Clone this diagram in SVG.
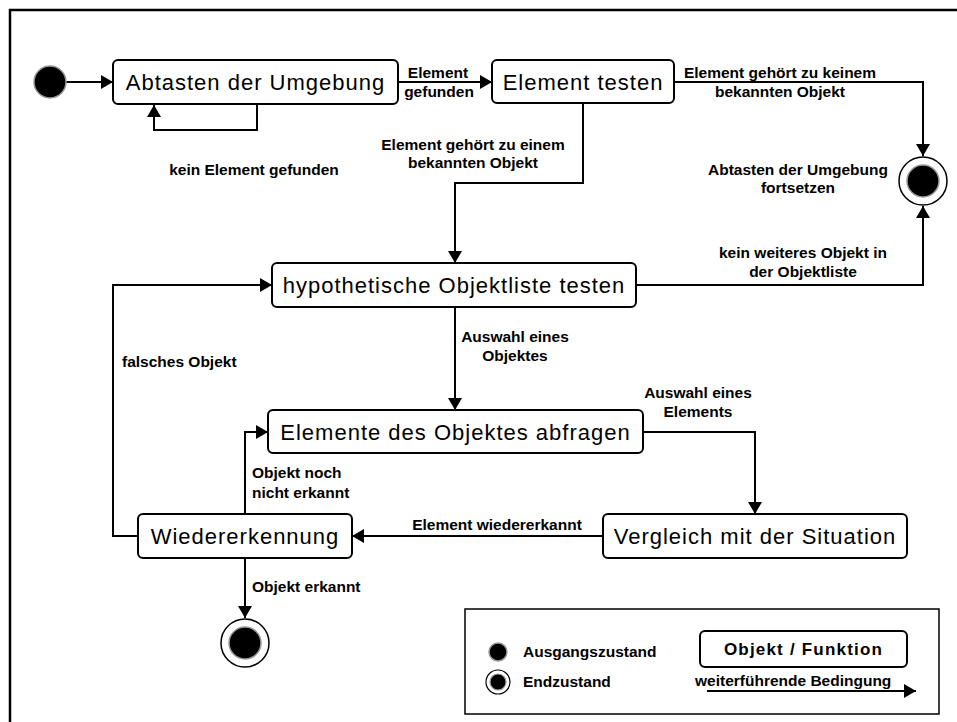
<svg xmlns="http://www.w3.org/2000/svg" width="957" height="722" viewBox="0 0 957 722">
  <style>
    .node rect { fill: #fff; stroke: #000; stroke-width: 2; }
    .node text { font-family: "Liberation Sans", Arial, sans-serif; font-size: 22px; letter-spacing: 1px; text-anchor: middle; fill: #000; }
    .conn { fill: none; stroke: #000; stroke-width: 2; marker-end: url(#arrow); }
    .lbl { font-family: "Liberation Sans", Arial, sans-serif; font-size: 15.5px; font-weight: bold; fill: #000; }
    .mid { text-anchor: middle; }
  </style>
  <defs>
    <marker id="arrow" markerUnits="userSpaceOnUse" markerWidth="13" markerHeight="14" refX="12" refY="7" orient="auto">
      <path d="M0,0 L12,7 L0,14 z" fill="#000"/>
    </marker>
  </defs>

  <rect width="957" height="722" fill="#fff"/>
  <!-- outer frame -->
  <rect x="10" y="10" width="960" height="730" fill="none" stroke="#000" stroke-width="2.5"/>

  <!-- connectors -->
  <g id="connectors">
    <path class="conn" d="M66,82 H113"/>
    <path class="conn" d="M257,104 V130 H154 V105"/>
    <path class="conn" d="M398,82 H492"/>
    <path class="conn" d="M674,82 H923 V156"/>
    <path class="conn" d="M583,103 V183 H455 V263"/>
    <path class="conn" d="M636,285 H923 V206"/>
    <path class="conn" d="M455,307 V410"/>
    <path class="conn" d="M138,536 H113 V285 H272"/>
    <path class="conn" d="M643,432 H755 V514"/>
    <path class="conn" d="M603,536 H352"/>
    <path class="conn" d="M245,514 V432 H268"/>
    <path class="conn" d="M245,558 V618"/>
  </g>

  <!-- transition labels -->
  <g id="labels">
    <text class="lbl mid" x="438" y="78">Element</text>
    <text class="lbl mid" x="439" y="97">gefunden</text>
    <text class="lbl mid" x="254" y="175">kein Element gefunden</text>
    <text class="lbl mid" x="780" y="78">Element gehört zu keinem</text>
    <text class="lbl mid" x="780" y="97">bekannten Objekt</text>
    <text class="lbl mid" x="473" y="150">Element gehört zu einem</text>
    <text class="lbl mid" x="473" y="168">bekannten Objekt</text>
    <text class="lbl mid" x="798" y="175">Abtasten der Umgebung</text>
    <text class="lbl mid" x="798" y="193">fortsetzen</text>
    <text class="lbl mid" x="803" y="258">kein weiteres Objekt in</text>
    <text class="lbl mid" x="803" y="277">der Objektliste</text>
    <text class="lbl mid" x="515" y="342">Auswahl eines</text>
    <text class="lbl mid" x="515" y="361">Objektes</text>
    <text class="lbl" x="122" y="367">falsches Objekt</text>
    <text class="lbl mid" x="698" y="398">Auswahl eines</text>
    <text class="lbl mid" x="698" y="417">Elements</text>
    <text class="lbl" x="252" y="478">Objekt noch</text>
    <text class="lbl" x="252" y="498">nicht erkannt</text>
    <text class="lbl mid" x="497" y="530">Element wiedererkannt</text>
    <text class="lbl" x="252" y="592">Objekt erkannt</text>
  </g>

  <!-- states -->
  <g id="start">
    <circle cx="50" cy="82" r="16" fill="#000" stroke="#999" stroke-width="1.5"/>
  </g>
  <g id="end-continue">
    <circle cx="923" cy="181" r="24" fill="#fff" stroke="#000" stroke-width="1.5"/>
    <circle cx="923" cy="181" r="16" fill="#000" stroke="#999" stroke-width="1.5"/>
  </g>
  <g id="end-recognized">
    <circle cx="245" cy="643" r="24" fill="#fff" stroke="#000" stroke-width="1.5"/>
    <circle cx="245" cy="643" r="16" fill="#000" stroke="#999" stroke-width="1.5"/>
  </g>

  <g id="scan" class="node">
    <rect x="113" y="60" width="285" height="44" rx="5"/>
    <text x="255.5" y="90">Abtasten der Umgebung</text>
  </g>
  <g id="test-element" class="node">
    <rect x="492" y="60" width="182" height="43" rx="5"/>
    <text x="583" y="90">Element testen</text>
  </g>
  <g id="test-list" class="node">
    <rect x="272" y="263" width="364" height="44" rx="5"/>
    <text x="454" y="293">hypothetische Objektliste testen</text>
  </g>
  <g id="query-elements" class="node">
    <rect x="268" y="410" width="375" height="43" rx="5"/>
    <text x="455.5" y="440">Elemente des Objektes abfragen</text>
  </g>
  <g id="compare" class="node">
    <rect x="603" y="514" width="304" height="44" rx="5"/>
    <text x="755" y="544">Vergleich mit der Situation</text>
  </g>
  <g id="recognition" class="node">
    <rect x="138" y="514" width="214" height="44" rx="5"/>
    <text x="245" y="544">Wiedererkennung</text>
  </g>

  <!-- legend -->
  <g id="legend">
    <rect x="465" y="609" width="474" height="105" fill="#fff" stroke="#000" stroke-width="1.5"/>
    <circle cx="498" cy="652" r="9" fill="#000" stroke="#999" stroke-width="1.5"/>
    <circle cx="498" cy="682" r="12" fill="#fff" stroke="#000" stroke-width="1.2"/>
    <circle cx="498" cy="682" r="8" fill="#000" stroke="#999" stroke-width="1.2"/>
    <text class="lbl" x="523" y="657">Ausgangszustand</text>
    <text class="lbl" x="523" y="687">Endzustand</text>
    <rect x="700" y="631" width="207" height="36" rx="5" fill="#fff" stroke="#000" stroke-width="2"/>
    <text class="lbl mid" x="803.5" y="655" style="font-size:17px;letter-spacing:1.2px">Objekt / Funktion</text>
    <text class="lbl" x="695" y="686">weiterführende Bedingung</text>
    <path class="conn" d="M707,691 H916"/>
  </g>
</svg>
